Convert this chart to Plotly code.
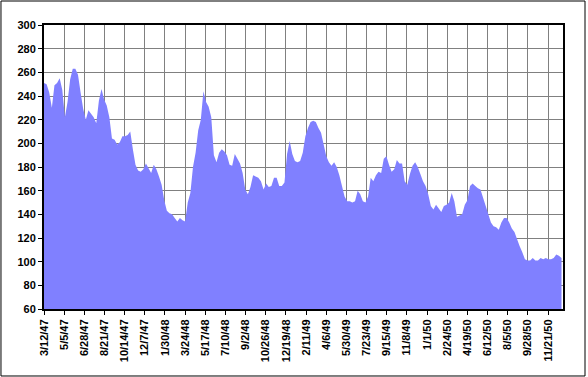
import datetime as dt
import plotly.graph_objects as go

# Weekly values, starting 3/12/47
start_date = "1947-03-12"
values = [
    251, 250, 243, 230, 249, 251, 255, 245, 222, 235, 254, 263, 263, 258, 243, 229, 220,
    228, 225, 222, 217, 236, 246, 237, 232, 222, 204, 203, 199, 201, 206, 206, 207, 210,
    195, 182, 177, 176, 178, 183, 179, 175, 182, 178, 172, 165, 152, 143, 141, 140, 137,
    134, 137, 135, 134, 150, 158, 180, 192, 211, 220, 244, 235, 231, 222, 190, 184, 192,
    195, 193, 190, 182, 181, 191, 187, 183, 175, 161, 157, 163, 173, 172, 171, 168, 161,
    166, 163, 164, 171, 171, 164, 164, 167, 191, 202, 191, 185, 184, 185, 192, 206,
    213, 218, 219, 218, 213, 209, 199, 189, 184, 181, 184, 180, 173, 163, 155, 151, 151,
    150, 151, 160, 157, 151, 150, 155, 171, 168, 173, 176, 175, 187, 189, 182, 176,
    178, 186, 183, 183, 168, 165, 174, 181, 184, 180, 174, 168, 164, 157, 147, 144, 148,
    145, 142, 147, 148, 150, 158, 151, 138, 139, 140, 148, 152, 164, 166, 164, 162,
    161, 154, 149, 142, 133, 130, 129, 127, 133, 137, 137, 133, 128, 125, 118, 113, 108,
    102, 101, 101, 103, 101, 101, 103, 102, 103, 102, 102, 103, 106, 105, 103,
]
end_date = "1950-12-31"

tick_labels = [
    "3/12/47", "5/5/47", "6/28/47", "8/21/47", "10/14/47", "12/7/47", "1/30/48",
    "3/24/48", "5/17/48", "7/10/48", "9/2/48", "10/26/48", "12/19/48", "2/11/49",
    "4/6/49", "5/30/49", "7/23/49", "9/15/49", "11/8/49", "1/1/50", "2/24/50",
    "4/19/50", "6/12/50", "8/5/50", "9/28/50", "11/21/50",
]
y_ticks = list(range(60, 301, 20))


def parse_label(s):
    m, d, y = (int(p) for p in s.split("/"))
    return dt.date(1900 + y, m, d).isoformat()


d0 = dt.date.fromisoformat(start_date)
dates = [(d0 + dt.timedelta(days=7 * i)).isoformat() for i in range(len(values))]
tick_vals = [parse_label(t) for t in tick_labels]

fig = go.Figure()
fig.add_trace(go.Scatter(
    x=dates, y=values, mode="lines", fill="tozeroy",
    fillcolor="#8080FF", line=dict(width=0, color="#8080FF"),
    hoverinfo="x+y", showlegend=False,
))

tickfont = dict(family="Arial, Liberation Sans, sans-serif", size=11, color="black", weight="bold")

fig.update_layout(
    width=588, height=377,
    margin=dict(l=44, r=25, t=25, b=68),
    paper_bgcolor="white", plot_bgcolor="white",
    xaxis=dict(
        type="date", range=[start_date, end_date],
        tickmode="array", tickvals=tick_vals, ticktext=tick_labels, tickangle=-90,
        tickfont=tickfont, ticks="outside", ticklen=4, tickcolor="black",
        showgrid=True, gridcolor="#808080", gridwidth=1,
        showline=True, linecolor="black", linewidth=2, mirror=True,
        zeroline=False,
    ),
    yaxis=dict(
        range=[60, 300], tickmode="array", tickvals=y_ticks,
        tickfont=tickfont, ticks="outside", ticklen=4, tickcolor="black",
        showgrid=True, gridcolor="#808080", gridwidth=1,
        showline=True, linecolor="black", linewidth=2, mirror=True,
        zeroline=False,
    ),
    shapes=[dict(
        type="rect", xref="paper", yref="paper",
        x0=-0.0829, x1=1.0424, y0=-0.2359, y1=1.0845,
        line=dict(color="black", width=1), fillcolor="rgba(0,0,0,0)", layer="above",
    )],
)

fig.write_html("out.html", config={"displayModeBar": False},
               post_script="document.body.style.margin='0';")
